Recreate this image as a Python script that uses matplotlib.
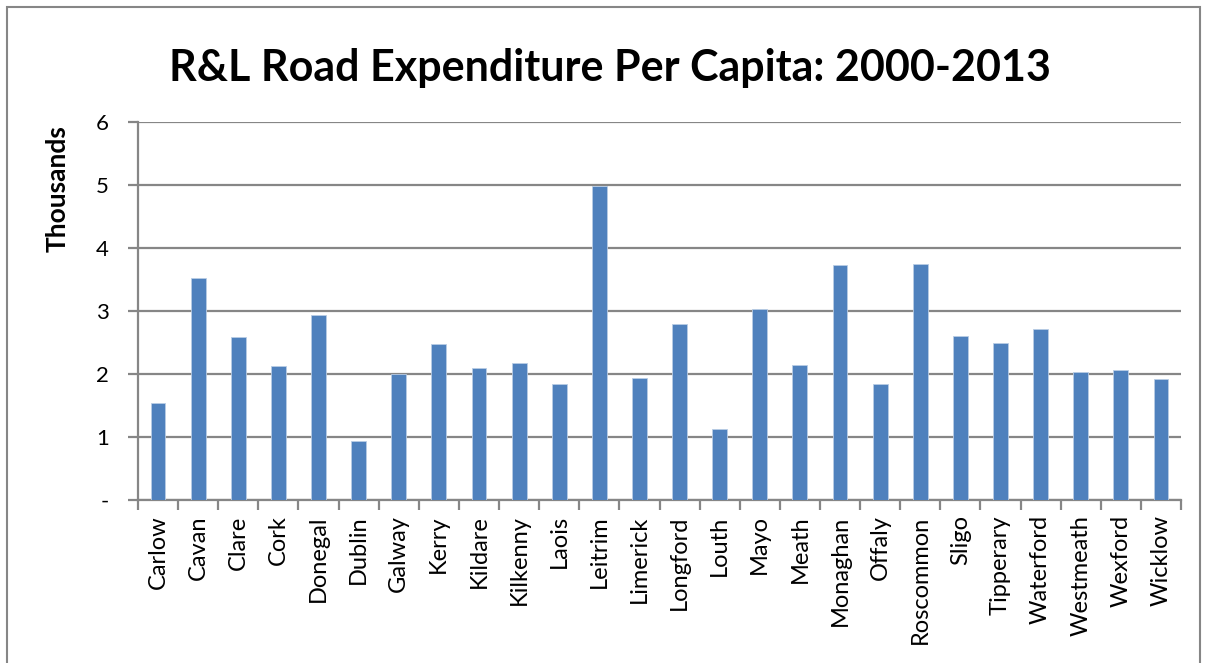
import numpy as np
import matplotlib.pyplot as plt
from matplotlib.patches import Rectangle

counties = ['Carlow', 'Cavan', 'Clare', 'Cork', 'Donegal', 'Dublin', 'Galway',
            'Kerry', 'Kildare', 'Kilkenny', 'Laois', 'Leitrim', 'Limerick',
            'Longford', 'Louth', 'Mayo', 'Meath', 'Monaghan', 'Offaly',
            'Roscommon', 'Sligo', 'Tipperary', 'Waterford', 'Westmeath',
            'Wexford', 'Wicklow']
spend = [1.54, 3.52, 2.58, 2.13, 2.93, 0.94, 2.00,
         2.47, 2.10, 2.17, 1.84, 4.98, 1.93,
         2.79, 1.13, 3.03, 2.14, 3.73, 1.84,
         3.75, 2.60, 2.49, 2.72, 2.03,
         2.06, 1.92]
yticks = [0, 1, 2, 3, 4, 5, 6]
ylabels = ['-', '1', '2', '3', '4', '5', '6']

plt.rcParams['font.family'] = ['Lato', 'DejaVu Sans']
grid_c = '#868686'

fig = plt.figure(figsize=(12.06, 6.63), dpi=100)
ax = fig.add_axes([138 / 1206, 1 - 500 / 663, (1181 - 138) / 1206, (500 - 122) / 663])

x = np.arange(len(counties))
ax.bar(x, spend, width=0.37, color='#4f81bd', edgecolor='#b9cde5', linewidth=0.6, zorder=3)

ax.set_xlim(-0.5, len(counties) - 0.5)
ax.set_ylim(0, 6)
ax.set_yticks(yticks)
ax.set_yticklabels(ylabels, fontsize=16)
ax.set_xticks(x)
ax.set_xticklabels(counties, rotation=90, fontsize=17)
ax.tick_params(axis='x', length=0, pad=11)
ax.set_xticks(np.arange(-0.5, len(counties)), minor=True)
ax.tick_params(axis='x', which='minor', length=7, color=grid_c, width=1.6)
ax.tick_params(axis='y', length=7, color=grid_c, width=1.6, pad=14)
ax.grid(axis='y', color=grid_c, linewidth=1.6, zorder=0)
for s in ['top', 'right']:
    ax.spines[s].set_visible(False)
for s in ['left', 'bottom']:
    ax.spines[s].set_color(grid_c)
    ax.spines[s].set_linewidth(1.6)

ax.set_ylabel('Thousands', fontsize=19, fontweight='bold')
ax.yaxis.set_label_coords(-0.066, 0.823)
fig.text(0.506, 1 - 68 / 663, 'R&L Road Expenditure Per Capita: 2000-2013',
         ha='center', va='center', fontsize=31, fontweight='bold')

# outer chart frame
fig.patches.append(Rectangle((7 / 1206, -0.1), 1193 / 1206, 1.1 - 7 / 663,
                             transform=fig.transFigure, fill=False,
                             edgecolor=grid_c, linewidth=1.5))

fig.savefig('out.png', dpi=100)
